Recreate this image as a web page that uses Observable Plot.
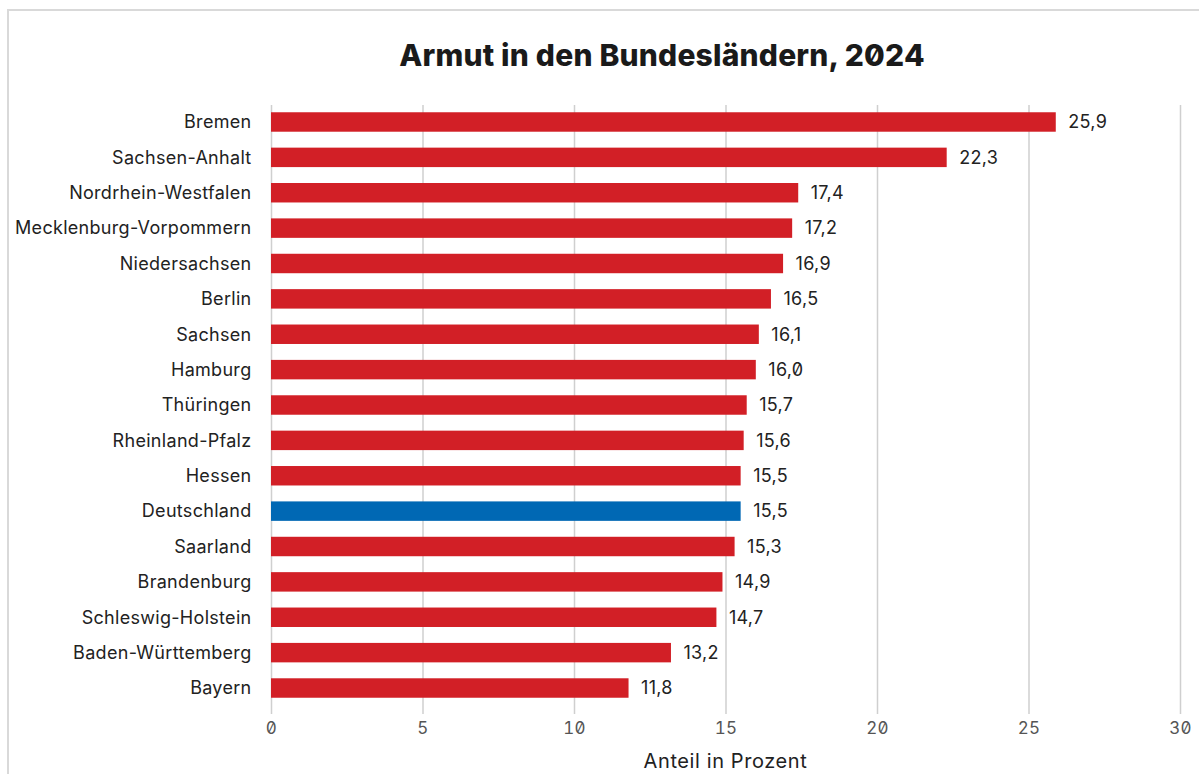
<!DOCTYPE html>
<html><head><meta charset="utf-8">
<script src="https://cdn.jsdelivr.net/npm/d3@7"></script>
<script src="https://cdn.jsdelivr.net/npm/@observablehq/plot@0.6"></script>
<style>
body{margin:0;background:#fff;font-family:Inter,"Noto Sans",sans-serif;font-feature-settings:"zero" 1;}
#wrap{position:relative;width:1199px;height:774px;overflow:hidden;}
#frame{position:absolute;left:7px;top:9px;width:1250px;height:900px;border:2px solid #d9d9d9;box-sizing:border-box;}
#title{position:absolute;left:262px;width:800px;top:37px;text-align:center;font-size:30px;font-weight:800;color:#1a1a1a;margin:0;letter-spacing:0.2px;}
#chart{position:absolute;left:0;top:90px;}
#chart svg{font-family:Inter,"Noto Sans",sans-serif;font-feature-settings:"zero" 1;letter-spacing:0.3px;}
#xlabel{position:absolute;left:271px;width:909px;top:749px;text-align:center;font-size:20px;letter-spacing:0.6px;color:#222;}
</style></head>
<body><div id="wrap"><div id="frame"></div>
<h1 id="title">Armut in den Bundesländern, 2024</h1>
<div id="chart"></div>
<div id="xlabel"></div></div>
<script>
const laender = ["Bremen","Sachsen-Anhalt","Nordrhein-Westfalen","Mecklenburg-Vorpommern","Niedersachsen","Berlin","Sachsen","Hamburg","Thüringen","Rheinland-Pfalz","Hessen","Deutschland","Saarland","Brandenburg","Schleswig-Holstein","Baden-Württemberg","Bayern"];
const werte = [25.9,22.3,17.4,17.2,16.9,16.5,16.1,16.0,15.7,15.6,15.5,15.5,15.3,14.9,14.7,13.2,11.8];
const xTicks = [0,5,10,15,20,25,30];
const xLabel = "Anteil in Prozent";

document.getElementById("xlabel").textContent = xLabel;
const data = laender.map((l,i)=>({land:l, wert:werte[i]}));
const fmt = v => v.toFixed(1).replace(".", ",");
const W = 1199, H = 684, top0 = 90;
const plot = Plot.plot({
  width: W, height: H,
  marginLeft: 271, marginRight: 19, marginTop: 105-top0, marginBottom: H-(714-top0),
  style:{fontSize:"18px", color:"#222", background:"transparent"},
  x:{domain:[0,30]},
  y:{domain:laender, range:[104.3-top0, 705.7-top0], round:false, paddingInner:0.45, paddingOuter:0.225},
  marks:[
    Plot.gridX(xTicks,{stroke:"#cfcfcf", strokeOpacity:1, strokeWidth:1.5}),
    Plot.axisX(xTicks,{tickSize:0, tickPadding:7, fill:"#555", fontSize:17, tickFormat:d=>String(d), label:null}),
    Plot.axisY({tickSize:0, tickPadding:20, fontSize:18, fill:"#222", label:null}),
    Plot.barX(data,{x:"wert", y:"land", fill:d=>d.land==="Deutschland"?"#0068b4":"#d21f26"}),
    Plot.text(data,{x:"wert", y:"land", text:d=>fmt(d.wert), textAnchor:"start", dx:12, fontSize:18, fill:"#222"})
  ]
});
document.getElementById("chart").append(plot);
</script></body></html>
